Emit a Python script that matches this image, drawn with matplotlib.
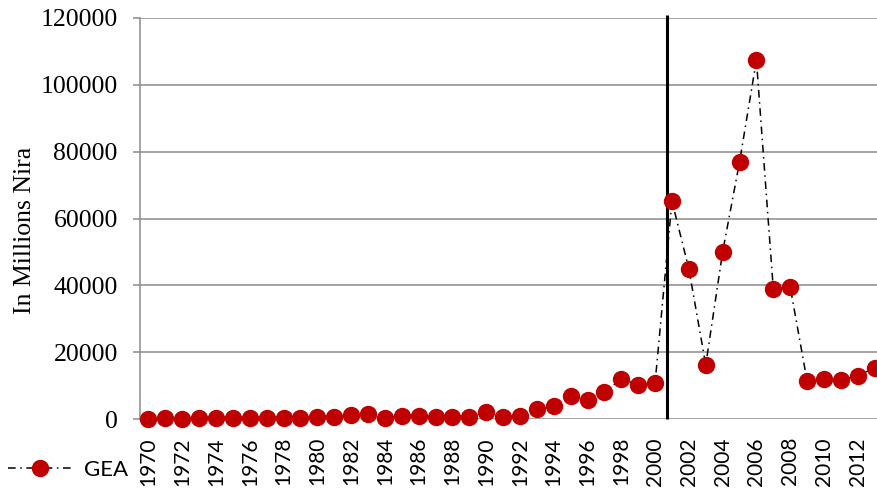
import numpy as np
import matplotlib.pyplot as plt

# Datos (millones de Naira)
anios = list(range(1970, 2014))
gea = [100, 150, 120, 150, 200, 250, 200, 250, 300, 350,
       500, 700, 1100, 1400, 400, 1000, 900, 500, 700, 700,
       2000, 600, 900, 3000, 3800, 7000, 5700, 8000, 12000, 10200,
       10800, 65200, 44900, 16200, 50000, 76900, 107400, 38900, 39500, 11400,
       12000, 11700, 12900, 15300]

etiquetas_x = [str(a) for a in anios if a % 2 == 0]
ticks_y = [0, 20000, 40000, 60000, 80000, 100000, 120000]
linea_corte = 2000.7

gris = '#8c8c8c'
rojo = '#C00000'

fig = plt.figure(figsize=(8.77, 4.88), dpi=100)
ax = fig.add_axes([140/877, 69/488, 737/877, 401/488])

ax.set_xlim(1969.5, 2013.14)
ax.set_ylim(0, 120000)

# Rejilla horizontal
for t in ticks_y:
    ax.axhline(t, color=gris, linewidth=1.1, zorder=1)

# Linea vertical de referencia
ax.vlines(linea_corte, 0, 121000, color='black', linewidth=2.2, zorder=2, clip_on=False)

ax.plot(anios, gea, color='black', linewidth=1.1, dashes=[5, 3, 1, 3],
        marker='o', markersize=11.5, markerfacecolor=rojo, markeredgecolor=rojo,
        label='GEA', zorder=3, clip_on=False)

for lado in ['top', 'right', 'bottom']:
    ax.spines[lado].set_visible(False)
ax.spines['left'].set_color(gris)
ax.spines['left'].set_linewidth(1.1)

ax.set_yticks(ticks_y)
ax.set_yticklabels([str(t) for t in ticks_y], fontfamily='Liberation Serif', fontsize=18.5)
ax.tick_params(axis='y', length=5, width=1.1, color=gris, pad=11)

ax.set_xticks([a for a in anios if a % 2 == 0])
ax.set_xticklabels(etiquetas_x, rotation=90, fontfamily='Lato', fontsize=15, va='top')
ax.tick_params(axis='x', length=0, pad=13)

ax.set_ylabel('In Millions Nira', fontfamily='Liberation Serif', fontsize=18.5)
ax.yaxis.set_label_coords(-0.141, 0.47)

fig.legend(loc='center left', bbox_to_anchor=(8/877, 1 - 470/488), frameon=False,
           borderpad=0, borderaxespad=0, handlelength=2.9, handletextpad=0.5,
           prop={'family': 'Lato', 'size': 16})

fig.savefig('out.png', dpi=100)
